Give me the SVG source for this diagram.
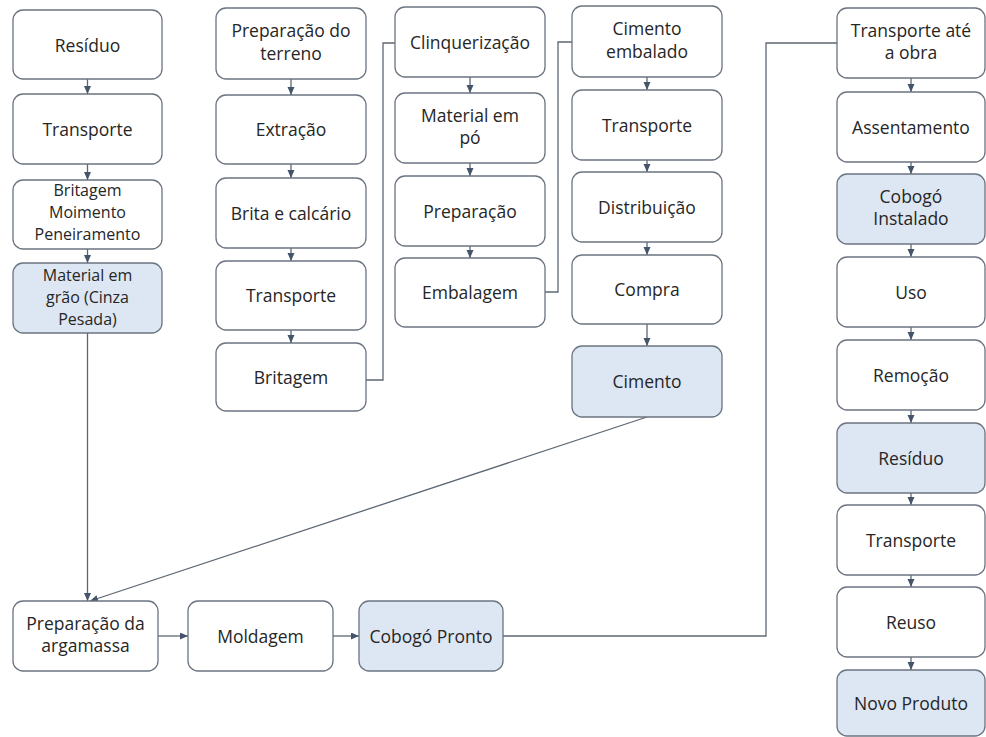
<svg xmlns="http://www.w3.org/2000/svg" width="986" height="737" viewBox="0 0 986 737">
  <style>
    .box { fill: #ffffff; stroke: #6b7480; stroke-width: 1.3; }
    .hl { fill: #dde7f3; }
    .lbl { font-family: "Open Sans", "Noto Sans", "DejaVu Sans", sans-serif; font-size: 17.5px; fill: #262626; text-anchor: middle; }
    .sm { font-size: 16px; }
    .ln { fill: none; stroke: #5d6772; stroke-width: 1.3; }
    .arr { marker-end: url(#head); }
  </style>
  <defs>
    <marker id="head" markerUnits="userSpaceOnUse" markerWidth="9" markerHeight="8" refX="8" refY="3.5" orient="auto">
      <path d="M0,0 L8,3.5 L0,7 z" fill="#44546a"/>
    </marker>
  </defs>
  <rect width="986" height="737" fill="#ffffff"/>

  <!-- connectors -->
  <g id="connectors">
    <!-- column 1 -->
    <line class="ln arr" x1="87.5" y1="79" x2="87.5" y2="94"/>
    <line class="ln arr" x1="87.5" y1="164" x2="87.5" y2="180"/>
    <line class="ln arr" x1="87.5" y1="249" x2="87.5" y2="263"/>
    <line class="ln arr" x1="87.5" y1="333" x2="87.5" y2="601"/>
    <!-- column 2 -->
    <line class="ln arr" x1="291" y1="79" x2="291" y2="95"/>
    <line class="ln arr" x1="291" y1="164" x2="291" y2="178"/>
    <line class="ln arr" x1="291" y1="248" x2="291" y2="261"/>
    <line class="ln arr" x1="291" y1="330" x2="291" y2="343"/>
    <path class="ln" d="M366,380 H383 V43 H395"/>
    <!-- column 3 -->
    <line class="ln arr" x1="470" y1="77" x2="470" y2="93"/>
    <line class="ln arr" x1="470" y1="163" x2="470" y2="176"/>
    <line class="ln arr" x1="470" y1="246" x2="470" y2="258"/>
    <path class="ln" d="M545,292 H558 V42 H572"/>
    <!-- column 4 -->
    <line class="ln arr" x1="647" y1="77" x2="647" y2="90"/>
    <line class="ln arr" x1="647" y1="160" x2="647" y2="172"/>
    <line class="ln arr" x1="647" y1="242" x2="647" y2="255"/>
    <line class="ln arr" x1="647" y1="324" x2="647" y2="346"/>
    <line class="ln arr" x1="647" y1="417" x2="90" y2="601"/>
    <!-- bottom row -->
    <line class="ln arr" x1="158" y1="636" x2="188" y2="636"/>
    <line class="ln arr" x1="333" y1="636" x2="359" y2="636"/>
    <path class="ln" d="M503,636 H766 V43 H837"/>
    <!-- column 5 -->
    <line class="ln arr" x1="911" y1="78" x2="911" y2="92"/>
    <line class="ln arr" x1="911" y1="162" x2="911" y2="174"/>
    <line class="ln arr" x1="911" y1="244" x2="911" y2="257"/>
    <line class="ln arr" x1="911" y1="327" x2="911" y2="340"/>
    <line class="ln arr" x1="911" y1="410" x2="911" y2="423"/>
    <line class="ln arr" x1="911" y1="493" x2="911" y2="505"/>
    <line class="ln arr" x1="911" y1="575" x2="911" y2="587"/>
    <line class="ln arr" x1="911" y1="657" x2="911" y2="670"/>
  </g>

  <!-- column 1: ash residue -->
  <g id="c1-residuo"><rect class="box" x="13" y="10" width="149" height="69" rx="10"/><text class="lbl" x="87.5" y="51.5">Resíduo</text></g>
  <g id="c1-transporte"><rect class="box" x="13" y="94" width="149" height="70" rx="10"/><text class="lbl" x="87.5" y="135.5">Transporte</text></g>
  <g id="c1-britagem"><rect class="box" x="13" y="180" width="149" height="69" rx="10"/><text class="lbl sm" x="87.5" y="196">Britagem</text><text class="lbl sm" x="87.5" y="218">Moimento</text><text class="lbl sm" x="87.5" y="240">Peneiramento</text></g>
  <g id="c1-material"><rect class="box hl" x="13" y="263" width="149" height="70" rx="10"/><text class="lbl sm" x="87.5" y="281">Material em</text><text class="lbl sm" x="87.5" y="303">grão (Cinza</text><text class="lbl sm" x="87.5" y="325">Pesada)</text></g>

  <!-- column 2: extraction -->
  <g id="c2-terreno"><rect class="box" x="216" y="8" width="150" height="71" rx="10"/><text class="lbl" x="291" y="37">Preparação do</text><text class="lbl" x="291" y="59.5">terreno</text></g>
  <g id="c2-extracao"><rect class="box" x="216" y="95" width="150" height="69" rx="10"/><text class="lbl" x="291" y="136">Extração</text></g>
  <g id="c2-brita"><rect class="box" x="216" y="178" width="150" height="70" rx="10"/><text class="lbl" x="291" y="219.5">Brita e calcário</text></g>
  <g id="c2-transporte"><rect class="box" x="216" y="261" width="150" height="69" rx="10"/><text class="lbl" x="291" y="302">Transporte</text></g>
  <g id="c2-britagem"><rect class="box" x="216" y="343" width="150" height="68" rx="10"/><text class="lbl" x="291" y="383.5">Britagem</text></g>

  <!-- column 3: clinker -->
  <g id="c3-clinquer"><rect class="box" x="395" y="7" width="150" height="70" rx="10"/><text class="lbl" x="470" y="48.5">Clinquerização</text></g>
  <g id="c3-po"><rect class="box" x="395" y="93" width="150" height="70" rx="10"/><text class="lbl" x="470" y="121.5">Material em</text><text class="lbl" x="470" y="144">pó</text></g>
  <g id="c3-preparacao"><rect class="box" x="395" y="176" width="150" height="70" rx="10"/><text class="lbl" x="470" y="217.5">Preparação</text></g>
  <g id="c3-embalagem"><rect class="box" x="395" y="258" width="150" height="69" rx="10"/><text class="lbl" x="470" y="299">Embalagem</text></g>

  <!-- column 4: cement -->
  <g id="c4-embalado"><rect class="box" x="572" y="6" width="150" height="71" rx="10"/><text class="lbl" x="647" y="35">Cimento</text><text class="lbl" x="647" y="57.5">embalado</text></g>
  <g id="c4-transporte"><rect class="box" x="572" y="90" width="150" height="70" rx="10"/><text class="lbl" x="647" y="131.5">Transporte</text></g>
  <g id="c4-distribuicao"><rect class="box" x="572" y="172" width="150" height="70" rx="10"/><text class="lbl" x="647" y="213.5">Distribuição</text></g>
  <g id="c4-compra"><rect class="box" x="572" y="255" width="150" height="69" rx="10"/><text class="lbl" x="647" y="296">Compra</text></g>
  <g id="c4-cimento"><rect class="box hl" x="572" y="346" width="150" height="71" rx="10"/><text class="lbl" x="647" y="388">Cimento</text></g>

  <!-- bottom row: production -->
  <g id="b-argamassa"><rect class="box" x="13" y="601" width="145" height="70" rx="10"/><text class="lbl" x="85.5" y="630">Preparação da</text><text class="lbl" x="85.5" y="652">argamassa</text></g>
  <g id="b-moldagem"><rect class="box" x="188" y="601" width="145" height="70" rx="10"/><text class="lbl" x="260.5" y="642.5">Moldagem</text></g>
  <g id="b-pronto"><rect class="box hl" x="359" y="601" width="144" height="70" rx="10"/><text class="lbl" x="431" y="642.5">Cobogó Pronto</text></g>

  <!-- column 5: use and end of life -->
  <g id="c5-obra"><rect class="box" x="837" y="8" width="148" height="70" rx="10"/><text class="lbl" x="911" y="36.5">Transporte até</text><text class="lbl" x="911" y="59">a obra</text></g>
  <g id="c5-assentamento"><rect class="box" x="837" y="92" width="148" height="70" rx="10"/><text class="lbl" x="911" y="133.5">Assentamento</text></g>
  <g id="c5-instalado"><rect class="box hl" x="837" y="174" width="148" height="70" rx="10"/><text class="lbl" x="911" y="202.5">Cobogó</text><text class="lbl" x="911" y="225">Instalado</text></g>
  <g id="c5-uso"><rect class="box" x="837" y="257" width="148" height="70" rx="10"/><text class="lbl" x="911" y="298.5">Uso</text></g>
  <g id="c5-remocao"><rect class="box" x="837" y="340" width="148" height="70" rx="10"/><text class="lbl" x="911" y="381.5">Remoção</text></g>
  <g id="c5-residuo"><rect class="box hl" x="837" y="423" width="148" height="70" rx="10"/><text class="lbl" x="911" y="464.5">Resíduo</text></g>
  <g id="c5-transporte"><rect class="box" x="837" y="505" width="148" height="70" rx="10"/><text class="lbl" x="911" y="546.5">Transporte</text></g>
  <g id="c5-reuso"><rect class="box" x="837" y="587" width="148" height="70" rx="10"/><text class="lbl" x="911" y="628.5">Reuso</text></g>
  <g id="c5-novo"><rect class="box hl" x="837" y="670" width="148" height="66" rx="10"/><text class="lbl" x="911" y="709.5">Novo Produto</text></g>
</svg>
